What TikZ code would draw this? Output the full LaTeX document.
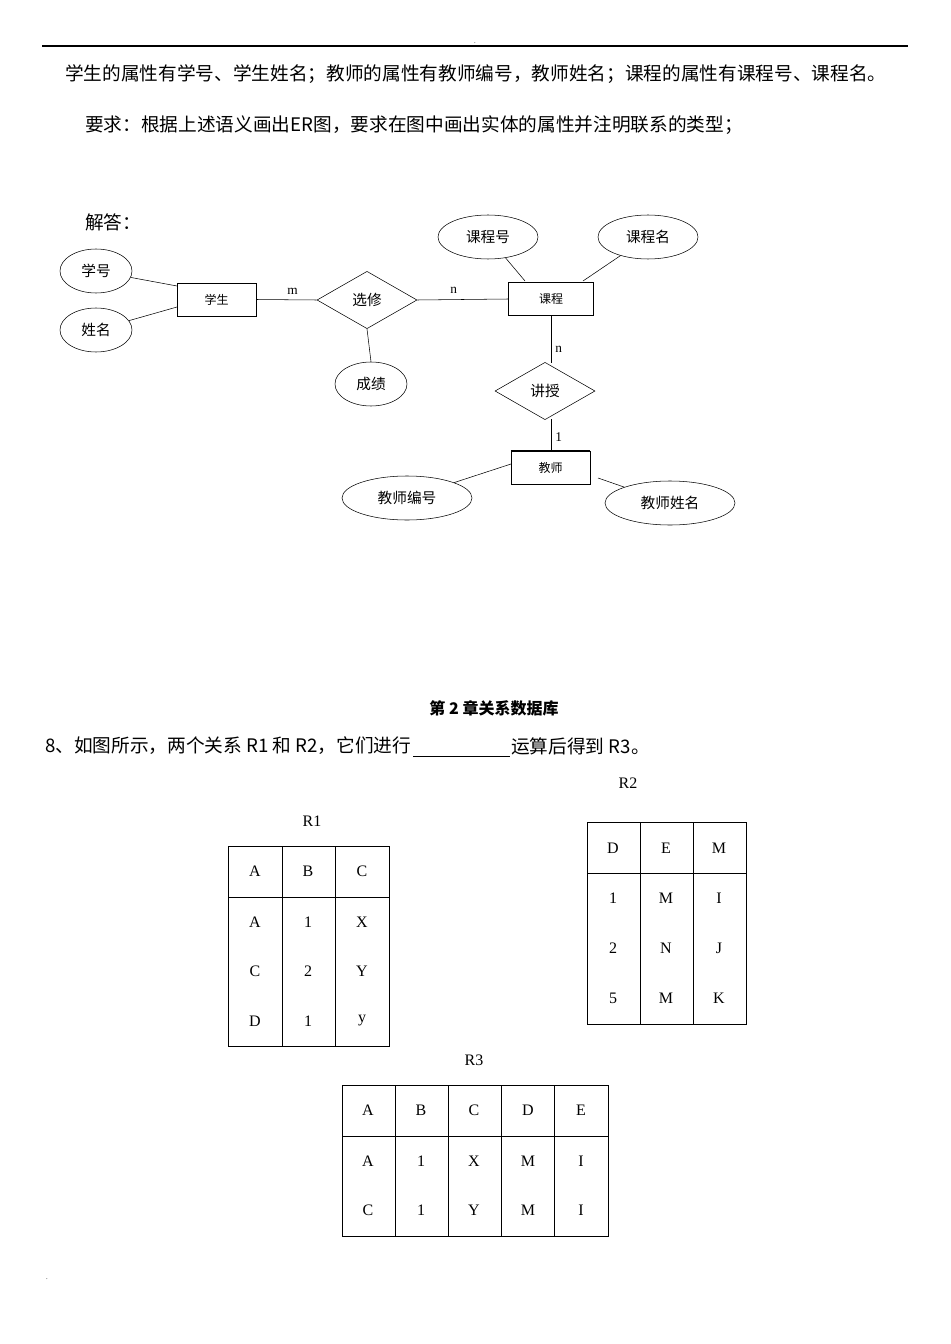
\documentclass[tikz,border=0pt]{standalone}
\usepackage{fontspec}
\setmainfont{Liberation Serif}
\newfontfamily\cjk{Noto Sans CJK SC}
\usetikzlibrary{shapes.geometric}
\begin{document}
\begin{tikzpicture}[x=0.75pt,y=-0.75pt,
  every node/.style={inner sep=0pt},
  ell/.style={draw,ellipse,minimum width=0.75*#1,minimum height=33pt,font=\cjk\fontsize{11}{13}\selectfont},
  ent/.style={draw,rectangle,font=\cjk\fontsize{9}{11}\selectfont},
  rel/.style={draw,diamond,aspect=1.75,minimum width=75pt,minimum height=43pt,font=\cjk\fontsize{11}{13}\selectfont},
  lab/.style={font=\fontsize{10}{12}\selectfont},
  tx/.style={font=\cjk\fontsize{14}{16}\selectfont,anchor=west},
  cell/.style={font=\fontsize{12}{14}\selectfont}]
\useasboundingbox (0,0) rectangle (950,1344);
\fill[white] (0,0) rectangle (950,1344);
\draw[line width=1pt] (42,46) -- (908,46);
\node at (475,43) {\tiny .};
\node[tx] (t1) at (65,74) {学生的属性有学号、学生姓名；教师的属性有教师编号，教师姓名；课程的属性有课程号、课程名。};
\node[tx] (t2) at (85,125) {要求：根据上述语义画出ER图，要求在图中画出实体的属性并注明联系的类型；};
\node[tx] (t3) at (85,222) {解答：};
% ER
\node[ent,minimum width=59pt,minimum height=25pt] (xs) at (216.5,299.5) {\raisebox{-6pt}{学生}};
\node[ell=72] (xh) at (96,271) {学号};
\node[ell=72] (xm) at (96,330) {姓名};
\node[rel] (xx) at (367,300) {选修};
\node[ent,minimum width=64pt,minimum height=25pt] (kc) at (551,299) {\raisebox{-4pt}{课程}};
\node[ell=100] (kh) at (488,237) {课程号};
\node[ell=100] (km) at (648,237) {课程名};
\node[ell=72] (cj) at (371,384) {成绩};
\node[rel] (js) at (545,391) {讲授};
\node[ent,minimum width=59pt,minimum height=25pt] (jsh) at (550.5,467.5) {\raisebox{-4pt}{教师}};
\draw[line width=1.3pt] (jsh.north west) -- (jsh.north east);
\node[ell=130] (bh) at (407,498) {教师编号};
\node[ell=130] (xmn) at (670,503) {教师姓名};
\draw (xh) -- (177,286);
\draw (xm) -- (177,307);
\draw (xs.east) -- node[lab,above=4pt,pos=0.6]{m} (xx.west);
\draw (xx.east) -- node[lab,above=4pt,pos=0.4]{n} (kc.west);
\draw (kh) -- (525,281);
\draw (km) -- (583,281);
\draw (xx.south) -- (cj.north);
\draw (551,316) -- node[lab,right=3pt,pos=0.7]{n} (551,363);
\draw (551,419) -- node[lab,right=3pt,pos=0.55]{1} (551,451);
\draw (bh) -- (511,464);
\draw (xmn) -- (598,478);
% section
\node[font=\cjk\bfseries\fontsize{12}{14}\selectfont] (sec) at (494,708) {第 2 章关系数据库};
\node[tx] (q) at (45,746) {8、如图所示，两个关系 R1 和 R2，它们进行};
\node[tx] (q2) at (511,746) {运算后得到 R3。};
\draw (413,756) -- (510,756);
% tables
\node[cell] (l2) at (628,783) {R2};
\node[cell] (l1) at (312,821) {R1};
\node[cell] (l3) at (474,1060) {R3};
\draw (228,846) rectangle (389,1046) (282,846) -- (282,1046) (335,846) -- (335,1046) (228,897) -- (389,897);
\foreach \x/\a/\b/\c/\d in {255/A/A/C/D,308/B/1/2/1,362/C/X/Y/y}{
  \node[cell] at (\x,871) {\a}; \node[cell] at (\x,922) {\b};
  \node[cell] at (\x,971) {\c}; \node[cell] at (\x,1021) {\d};}
\draw (587,822) rectangle (746,1024) (640,822) -- (640,1024) (693,822) -- (693,1024) (587,873) -- (746,873);
\foreach \x/\a/\b/\c/\d in {613/D/1/2/5,666/E/M/N/M,719/M/I/J/K}{
  \node[cell] at (\x,848) {\a}; \node[cell] at (\x,898) {\b};
  \node[cell] at (\x,948) {\c}; \node[cell] at (\x,998) {\d};}
\draw (342,1085) rectangle (608,1236) (395,1085) -- (395,1236) (448,1085) -- (448,1236) (501,1085) -- (501,1236) (554,1085) -- (554,1236) (342,1136) -- (608,1136);
\foreach \x/\a/\b/\c in {368/A/A/C,421/B/1/1,474/C/X/Y,528/D/M/M,581/E/I/I}{
  \node[cell] at (\x,1110) {\a}; \node[cell] at (\x,1161) {\b};
  \node[cell] at (\x,1210) {\c};}
\node at (47,1279) {\tiny .};
\end{tikzpicture}
\end{document}
